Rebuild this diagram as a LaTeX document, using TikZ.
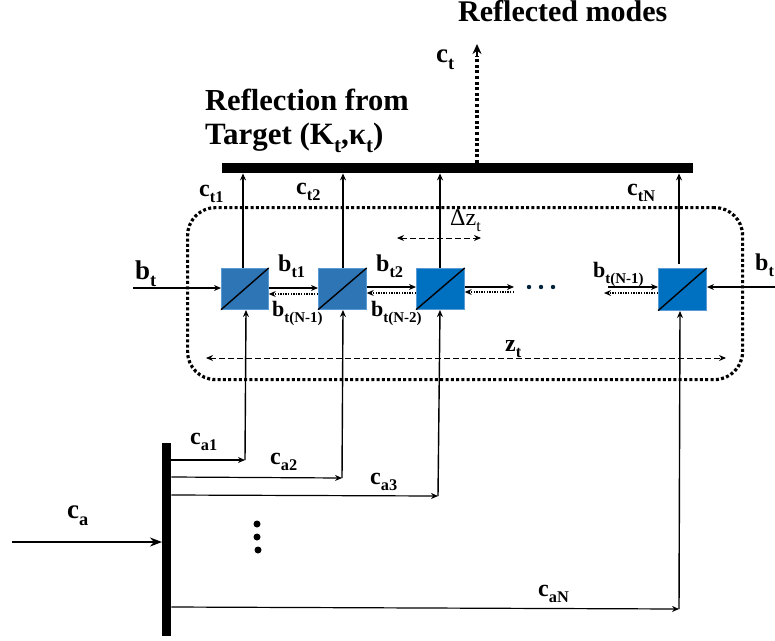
\documentclass[tikz,border=0pt]{standalone}
\usepackage{fontspec}
\setmainfont{Liberation Serif}
\usetikzlibrary{arrows.meta}
\definecolor{boxa}{HTML}{2E75B6}
\definecolor{boxb}{HTML}{0070C0}
\definecolor{boxedge}{HTML}{5B9BD5}
\newcommand{\lbl}[3]{\fontsize{#3}{#3}\selectfont\bfseries #1\raisebox{-0.28em}{\fontsize{\the\dimexpr #3pt*68/100\relax}{10pt}\selectfont #2}}
\tikzset{
  bsbox/.style={draw=boxedge,line width=0.7pt,minimum width=47pt,minimum height=41pt,inner sep=0pt,anchor=north west},
  solidarrow/.style={draw=black,line width=1.4pt,-{Stealth[length=7pt,width=6pt]}},
  dotarrow/.style={draw=black,line width=1.9pt,dash pattern=on 1.4pt off 1.2pt,-{Stealth[length=7pt,width=6pt,line width=0pt]}},
  dasharrow/.style={draw=black,line width=0.9pt,dash pattern=on 5.5pt off 3.5pt,{Stealth[length=7pt,width=6pt]}-{Stealth[length=7pt,width=6pt]}},
  barnode/.style={fill=black,inner sep=0pt,anchor=north west},
  txt/.style={inner sep=0pt,anchor=base west},
}
\begin{document}
\begin{tikzpicture}[x=1pt,y=-1pt]
\useasboundingbox (0,0) rectangle (775,640);
% mirrors and splitters
\node[barnode,minimum width=471pt,minimum height=10pt] (top) at (222,163) {};
\node[barnode,minimum width=9pt,minimum height=193pt] (left) at (162,443) {};
\node[bsbox,fill=boxa,minimum width=47pt] (b1) at (221,268) {};
\node[bsbox,fill=boxa,minimum width=48pt] (b2) at (318,268) {};
\node[bsbox,fill=boxb,minimum width=48pt] (b3) at (416,268) {};
\node[bsbox,fill=boxb,minimum width=48pt,minimum height=42pt] (b4) at (658,268) {};
\foreach \n in {b1,b2,b3,b4}{\draw[line width=1.4pt] (\n.south west) -- (\n.north east);}
% dotted enclosure
\node[draw=black,line width=3.2pt,dash pattern=on 3pt off 2.3pt,rounded corners=28pt,minimum width=555pt,minimum height=172pt,inner sep=0pt,anchor=north west] (enc) at (186,206) {};
% upward to top bar
\draw[solidarrow] (b1.north -| 243,0) -- (243,0 |- top.south);
\draw[solidarrow] (b2.north -| 343,0) -- (343,0 |- top.south);
\draw[solidarrow] (b3.north -| 440,0) -- (440,0 |- top.south);
\draw[solidarrow] (679,264) -- (679,0 |- top.south);
\coordinate (ctend) at (477,44);
\draw[draw=black,line width=3.4pt,dash pattern=on 3pt off 2.6pt] (477,163) -- (477,56);
\draw[-{Stealth[length=10pt,width=9pt]},line width=1.5pt] (477,56) -- (ctend);
% horizontal chain
\coordinate (bin) at (133,288);
\coordinate (bout) at (775,287);
\coordinate (c3r) at (514,287);
\coordinate (c3d) at (514,292);
\coordinate (c4l) at (608,287);
\coordinate (c4d) at (604,293);
\draw[solidarrow] (bin) -- (bin -| b1.west);
\draw[solidarrow] (b1.east |- 0,288) -- (b2.west |- 0,288);
\draw[dotarrow] (b2.west |- 0,294) -- (b1.east |- 0,294);
\draw[solidarrow] (b2.east |- 0,287) -- (b3.west |- 0,287);
\draw[dotarrow] (b3.west |- 0,293) -- (b2.east |- 0,293);
\draw[solidarrow] (b3.east |- c3r) -- (c3r);
\draw[dotarrow] (c3d) -- (b3.east |- c3d);
\draw[solidarrow] (c4l) -- (c4l -| b4.west);
\draw[dotarrow] (b4.west |- c4d) -- (c4d);
\draw[solidarrow] (bout) -- (707,287);
% dashed dimensions
\coordinate (dz1) at (397,238);
\coordinate (dz2) at (481,238);
\coordinate (z1) at (206,358);
\coordinate (z2) at (726,358);
\draw[dasharrow] (dz1) -- (dz2);
\draw[dasharrow] (z1) -- (z2);
% lower feed lines
\coordinate (k1) at (245,460);
\coordinate (k2) at (342,478);
\coordinate (k3) at (438,496);
\coordinate (k4) at (679,609);
\draw[solidarrow,line width=1.2pt] (left.east |- k1) -- (k1);
\draw[solidarrow,line width=1.2pt] (left.east |- 0,477) -- (k2);
\draw[solidarrow,line width=1.2pt] (left.east |- 0,495) -- (k3);
\draw[solidarrow,line width=1.2pt] (left.east |- 0,607) -- (k4);
\draw[solidarrow] (k1) -- (246,310);
\draw[solidarrow] (k2) -- (343,310);
\draw[solidarrow] (k3) -- (440,310);
\draw[solidarrow] (k4) -- (680,311);
\coordinate (cain) at (12,542);
\draw[line width=2.6pt,-{Stealth[length=12pt,width=9pt]}] (cain) -- (cain -| left.west);
% dots
\foreach \x/\y in {257/524,257/537,258/550}{\fill[black] (\x,\y) circle (3.5pt);}
\foreach \x in {529,541,553}{\fill[black!70!boxb] (\x,287) circle (2.2pt);}
% labels
\node[txt] (t1) at (458,21) {\fontsize{30}{32}\selectfont\bfseries Reflected modes};
\node[txt] (t2) at (205,110) {\fontsize{30.5}{32}\selectfont\bfseries Reflection from};
\node[txt] (t3) at (205,144) {\lbl{Target (K}{t}{31}\fontsize{31}{32}\selectfont\bfseries ,κ\raisebox{-0.28em}{\fontsize{21}{22}\selectfont t}\fontsize{31}{32}\selectfont )};
\node[txt] (l1) at (436,62) {\lbl{c}{t}{27}};
\node[txt] (l2) at (199,196) {\lbl{c}{t1}{24}};
\node[txt] (l3) at (296,194) {\lbl{c}{t2}{24}};
\node[txt] (l4) at (627,195) {\lbl{c}{tN}{24}};
\node[txt] (l5) at (450,225) {\fontsize{24}{25}\selectfont Δz\raisebox{-0.25em}{\fontsize{16}{17}\selectfont t}};
\node[txt] (l6) at (135,279) {\lbl{b}{t}{27}};
\node[txt] (l7) at (278,271) {\lbl{b}{t1}{24}};
\node[txt] (l8) at (376,271) {\lbl{b}{t2}{24}};
\node[txt] (l9) at (272,316) {\lbl{b}{t(N-1)}{22}};
\node[txt] (l10) at (371,316) {\lbl{b}{t(N-2)}{22}};
\node[txt] (l11) at (593,277) {\lbl{b}{t(N-1)}{22}};
\node[txt] (l12) at (505,351) {\lbl{z}{t}{24}};
\node[txt] (l13) at (755,270) {\lbl{b}{t}{24}};
\node[txt] (l14) at (190,444) {\lbl{c}{a1}{24}};
\node[txt] (l15) at (270,464) {\lbl{c}{a2}{24}};
\node[txt] (l16) at (370,484) {\lbl{c}{a3}{24}};
\node[txt] (l17) at (67,518) {\lbl{c}{a}{27}};
\node[txt] (l18) at (538,596) {\lbl{c}{aN}{24}};
\end{tikzpicture}
\end{document}
